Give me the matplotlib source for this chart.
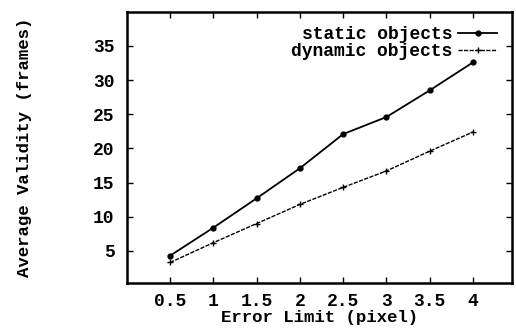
import matplotlib
matplotlib.use("Agg")
import matplotlib.pyplot as plt

error_limit = [0.5, 1, 1.5, 2, 2.5, 3, 3.5, 4]
static_objects = [4.3, 8.4, 12.7, 17.1, 22.1, 24.6, 28.5, 32.6]
dynamic_objects = [3.3, 6.2, 9.0, 11.8, 14.3, 16.7, 19.6, 22.4]
x_ticks = [0.5, 1, 1.5, 2, 2.5, 3, 3.5, 4]
x_tick_labels = ["0.5", "1", "1.5", "2", "2.5", "3", "3.5", "4"]
y_ticks = [5, 10, 15, 20, 25, 30, 35]

plt.rcParams["font.family"] = "Liberation Mono"
plt.rcParams["font.weight"] = "bold"
plt.rcParams["axes.labelweight"] = "bold"
plt.rcParams["font.size"] = 13

fig = plt.figure(figsize=(5.16, 3.29), dpi=100)
ax = fig.add_axes([0.246, 0.140, 0.746, 0.824])

ax.plot(error_limit, static_objects, color="black", lw=1.3,
        marker="o", ms=3.5, label="static objects")
ax.plot(error_limit, dynamic_objects, color="black", lw=1.0, ls=(0, (3, 1)),
        marker="+", ms=5, mew=1.0, label="dynamic objects")

ax.set_xlim(0, 4.45)
ax.set_ylim(0.3, 40)
ax.set_xticks(x_ticks)
ax.set_xticklabels(x_tick_labels)
ax.set_yticks(y_ticks)
ax.tick_params(direction="in", top=True, right=True, length=4, width=1,
               labeltop=False, labelright=False, pad=9)
ax.tick_params(axis="x", pad=7)
for s in ax.spines.values():
    s.set_linewidth(1.8)

ax.set_xlabel("Error Limit (pixel)", fontsize=12.5, labelpad=0)
ax.set_ylabel("Average Validity (frames)", fontsize=12.5, labelpad=44)

ax.legend(loc="upper right", frameon=False, markerfirst=False,
          handlelength=2.2, handletextpad=0.3, labelspacing=0.0,
          borderaxespad=0.4)

fig.savefig("out.png", dpi=100)
